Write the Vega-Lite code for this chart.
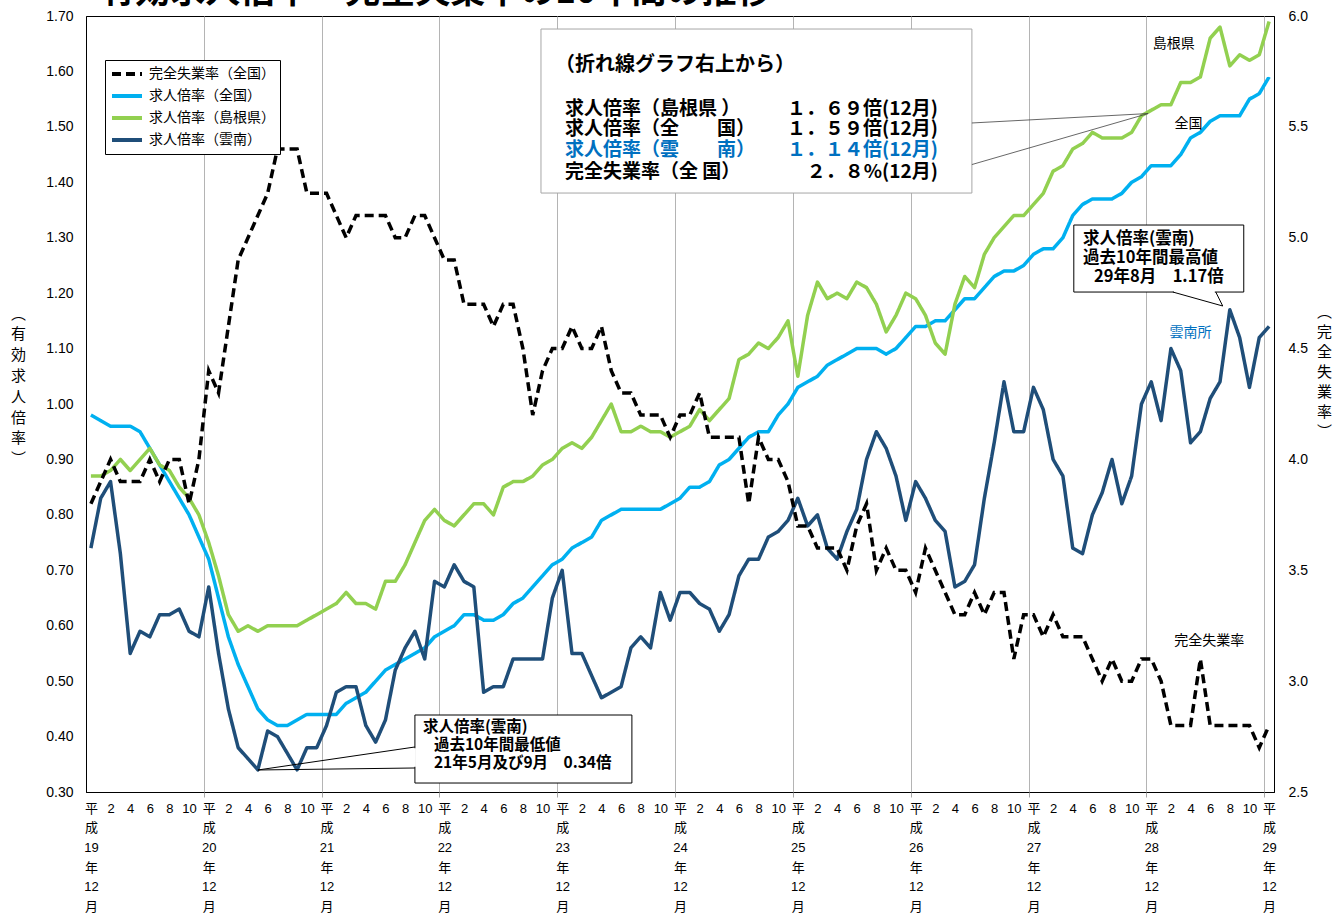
{
  "$schema": "https://vega.github.io/schema/vega-lite/v6.json",
  "width": 1188,
  "height": 776,
  "autosize": "none",
  "padding": {"left": 86, "top": 16, "right": 60, "bottom": 121},
  "background": "white",
  "config": {
    "view": {"stroke": "#000000", "strokeWidth": 1},
    "font": "Liberation Sans, Noto Sans CJK JP",
    "axis": {"labelColor": "#000000", "domainColor": "#000000", "titleColor": "#000000"}
  },
  "datasets": {
    "d": [
      {"m":0,"求人倍率（全国）":0.98,"求人倍率（島根県）":0.87,"求人倍率（雲南）":0.74,"完全失業率（全国）":3.8},
      {"m":1,"求人倍率（全国）":0.97,"求人倍率（島根県）":0.87,"求人倍率（雲南）":0.83,"完全失業率（全国）":3.9},
      {"m":2,"求人倍率（全国）":0.96,"求人倍率（島根県）":0.88,"求人倍率（雲南）":0.86,"完全失業率（全国）":4.0},
      {"m":3,"求人倍率（全国）":0.96,"求人倍率（島根県）":0.90,"求人倍率（雲南）":0.73,"完全失業率（全国）":3.9},
      {"m":4,"求人倍率（全国）":0.96,"求人倍率（島根県）":0.88,"求人倍率（雲南）":0.55,"完全失業率（全国）":3.9},
      {"m":5,"求人倍率（全国）":0.95,"求人倍率（島根県）":0.90,"求人倍率（雲南）":0.59,"完全失業率（全国）":3.9},
      {"m":6,"求人倍率（全国）":0.92,"求人倍率（島根県）":0.92,"求人倍率（雲南）":0.58,"完全失業率（全国）":4.0},
      {"m":7,"求人倍率（全国）":0.89,"求人倍率（島根県）":0.89,"求人倍率（雲南）":0.62,"完全失業率（全国）":3.9},
      {"m":8,"求人倍率（全国）":0.86,"求人倍率（島根県）":0.88,"求人倍率（雲南）":0.62,"完全失業率（全国）":4.0},
      {"m":9,"求人倍率（全国）":0.83,"求人倍率（島根県）":0.85,"求人倍率（雲南）":0.63,"完全失業率（全国）":4.0},
      {"m":10,"求人倍率（全国）":0.80,"求人倍率（島根県）":0.83,"求人倍率（雲南）":0.59,"完全失業率（全国）":3.8},
      {"m":11,"求人倍率（全国）":0.76,"求人倍率（島根県）":0.80,"求人倍率（雲南）":0.58,"完全失業率（全国）":4.0},
      {"m":12,"求人倍率（全国）":0.72,"求人倍率（島根県）":0.75,"求人倍率（雲南）":0.67,"完全失業率（全国）":4.4},
      {"m":13,"求人倍率（全国）":0.65,"求人倍率（島根県）":0.69,"求人倍率（雲南）":0.55,"完全失業率（全国）":4.3},
      {"m":14,"求人倍率（全国）":0.58,"求人倍率（島根県）":0.62,"求人倍率（雲南）":0.45,"完全失業率（全国）":4.6},
      {"m":15,"求人倍率（全国）":0.53,"求人倍率（島根県）":0.59,"求人倍率（雲南）":0.38,"完全失業率（全国）":4.9},
      {"m":16,"求人倍率（全国）":0.49,"求人倍率（島根県）":0.60,"求人倍率（雲南）":0.36,"完全失業率（全国）":5.0},
      {"m":17,"求人倍率（全国）":0.45,"求人倍率（島根県）":0.59,"求人倍率（雲南）":0.34,"完全失業率（全国）":5.1},
      {"m":18,"求人倍率（全国）":0.43,"求人倍率（島根県）":0.60,"求人倍率（雲南）":0.41,"完全失業率（全国）":5.2},
      {"m":19,"求人倍率（全国）":0.42,"求人倍率（島根県）":0.60,"求人倍率（雲南）":0.40,"完全失業率（全国）":5.4},
      {"m":20,"求人倍率（全国）":0.42,"求人倍率（島根県）":0.60,"求人倍率（雲南）":0.37,"完全失業率（全国）":5.4},
      {"m":21,"求人倍率（全国）":0.43,"求人倍率（島根県）":0.60,"求人倍率（雲南）":0.34,"完全失業率（全国）":5.4},
      {"m":22,"求人倍率（全国）":0.44,"求人倍率（島根県）":0.61,"求人倍率（雲南）":0.38,"完全失業率（全国）":5.2},
      {"m":23,"求人倍率（全国）":0.44,"求人倍率（島根県）":0.62,"求人倍率（雲南）":0.38,"完全失業率（全国）":5.2},
      {"m":24,"求人倍率（全国）":0.44,"求人倍率（島根県）":0.63,"求人倍率（雲南）":0.42,"完全失業率（全国）":5.2},
      {"m":25,"求人倍率（全国）":0.44,"求人倍率（島根県）":0.64,"求人倍率（雲南）":0.48,"完全失業率（全国）":5.1},
      {"m":26,"求人倍率（全国）":0.46,"求人倍率（島根県）":0.66,"求人倍率（雲南）":0.49,"完全失業率（全国）":5.0},
      {"m":27,"求人倍率（全国）":0.47,"求人倍率（島根県）":0.64,"求人倍率（雲南）":0.49,"完全失業率（全国）":5.1},
      {"m":28,"求人倍率（全国）":0.48,"求人倍率（島根県）":0.64,"求人倍率（雲南）":0.42,"完全失業率（全国）":5.1},
      {"m":29,"求人倍率（全国）":0.50,"求人倍率（島根県）":0.63,"求人倍率（雲南）":0.39,"完全失業率（全国）":5.1},
      {"m":30,"求人倍率（全国）":0.52,"求人倍率（島根県）":0.68,"求人倍率（雲南）":0.43,"完全失業率（全国）":5.1},
      {"m":31,"求人倍率（全国）":0.53,"求人倍率（島根県）":0.68,"求人倍率（雲南）":0.52,"完全失業率（全国）":5.0},
      {"m":32,"求人倍率（全国）":0.54,"求人倍率（島根県）":0.71,"求人倍率（雲南）":0.56,"完全失業率（全国）":5.0},
      {"m":33,"求人倍率（全国）":0.55,"求人倍率（島根県）":0.75,"求人倍率（雲南）":0.59,"完全失業率（全国）":5.1},
      {"m":34,"求人倍率（全国）":0.56,"求人倍率（島根県）":0.79,"求人倍率（雲南）":0.54,"完全失業率（全国）":5.1},
      {"m":35,"求人倍率（全国）":0.58,"求人倍率（島根県）":0.81,"求人倍率（雲南）":0.68,"完全失業率（全国）":5.0},
      {"m":36,"求人倍率（全国）":0.59,"求人倍率（島根県）":0.79,"求人倍率（雲南）":0.67,"完全失業率（全国）":4.9},
      {"m":37,"求人倍率（全国）":0.60,"求人倍率（島根県）":0.78,"求人倍率（雲南）":0.71,"完全失業率（全国）":4.9},
      {"m":38,"求人倍率（全国）":0.62,"求人倍率（島根県）":0.80,"求人倍率（雲南）":0.68,"完全失業率（全国）":4.7},
      {"m":39,"求人倍率（全国）":0.62,"求人倍率（島根県）":0.82,"求人倍率（雲南）":0.67,"完全失業率（全国）":4.7},
      {"m":40,"求人倍率（全国）":0.61,"求人倍率（島根県）":0.82,"求人倍率（雲南）":0.48,"完全失業率（全国）":4.7},
      {"m":41,"求人倍率（全国）":0.61,"求人倍率（島根県）":0.80,"求人倍率（雲南）":0.49,"完全失業率（全国）":4.6},
      {"m":42,"求人倍率（全国）":0.62,"求人倍率（島根県）":0.85,"求人倍率（雲南）":0.49,"完全失業率（全国）":4.7},
      {"m":43,"求人倍率（全国）":0.64,"求人倍率（島根県）":0.86,"求人倍率（雲南）":0.54,"完全失業率（全国）":4.7},
      {"m":44,"求人倍率（全国）":0.65,"求人倍率（島根県）":0.86,"求人倍率（雲南）":0.54,"完全失業率（全国）":4.5},
      {"m":45,"求人倍率（全国）":0.67,"求人倍率（島根県）":0.87,"求人倍率（雲南）":0.54,"完全失業率（全国）":4.2},
      {"m":46,"求人倍率（全国）":0.69,"求人倍率（島根県）":0.89,"求人倍率（雲南）":0.54,"完全失業率（全国）":4.4},
      {"m":47,"求人倍率（全国）":0.71,"求人倍率（島根県）":0.90,"求人倍率（雲南）":0.65,"完全失業率（全国）":4.5},
      {"m":48,"求人倍率（全国）":0.72,"求人倍率（島根県）":0.92,"求人倍率（雲南）":0.70,"完全失業率（全国）":4.5},
      {"m":49,"求人倍率（全国）":0.74,"求人倍率（島根県）":0.93,"求人倍率（雲南）":0.55,"完全失業率（全国）":4.6},
      {"m":50,"求人倍率（全国）":0.75,"求人倍率（島根県）":0.92,"求人倍率（雲南）":0.55,"完全失業率（全国）":4.5},
      {"m":51,"求人倍率（全国）":0.76,"求人倍率（島根県）":0.94,"求人倍率（雲南）":0.51,"完全失業率（全国）":4.5},
      {"m":52,"求人倍率（全国）":0.79,"求人倍率（島根県）":0.97,"求人倍率（雲南）":0.47,"完全失業率（全国）":4.6},
      {"m":53,"求人倍率（全国）":0.80,"求人倍率（島根県）":1.00,"求人倍率（雲南）":0.48,"完全失業率（全国）":4.4},
      {"m":54,"求人倍率（全国）":0.81,"求人倍率（島根県）":0.95,"求人倍率（雲南）":0.49,"完全失業率（全国）":4.3},
      {"m":55,"求人倍率（全国）":0.81,"求人倍率（島根県）":0.95,"求人倍率（雲南）":0.56,"完全失業率（全国）":4.3},
      {"m":56,"求人倍率（全国）":0.81,"求人倍率（島根県）":0.96,"求人倍率（雲南）":0.58,"完全失業率（全国）":4.2},
      {"m":57,"求人倍率（全国）":0.81,"求人倍率（島根県）":0.95,"求人倍率（雲南）":0.56,"完全失業率（全国）":4.2},
      {"m":58,"求人倍率（全国）":0.81,"求人倍率（島根県）":0.95,"求人倍率（雲南）":0.66,"完全失業率（全国）":4.2},
      {"m":59,"求人倍率（全国）":0.82,"求人倍率（島根県）":0.94,"求人倍率（雲南）":0.61,"完全失業率（全国）":4.1},
      {"m":60,"求人倍率（全国）":0.83,"求人倍率（島根県）":0.95,"求人倍率（雲南）":0.66,"完全失業率（全国）":4.2},
      {"m":61,"求人倍率（全国）":0.85,"求人倍率（島根県）":0.96,"求人倍率（雲南）":0.66,"完全失業率（全国）":4.2},
      {"m":62,"求人倍率（全国）":0.85,"求人倍率（島根県）":0.99,"求人倍率（雲南）":0.64,"完全失業率（全国）":4.3},
      {"m":63,"求人倍率（全国）":0.86,"求人倍率（島根県）":0.97,"求人倍率（雲南）":0.63,"完全失業率（全国）":4.1},
      {"m":64,"求人倍率（全国）":0.89,"求人倍率（島根県）":0.99,"求人倍率（雲南）":0.59,"完全失業率（全国）":4.1},
      {"m":65,"求人倍率（全国）":0.90,"求人倍率（島根県）":1.01,"求人倍率（雲南）":0.62,"完全失業率（全国）":4.1},
      {"m":66,"求人倍率（全国）":0.92,"求人倍率（島根県）":1.08,"求人倍率（雲南）":0.69,"完全失業率（全国）":4.1},
      {"m":67,"求人倍率（全国）":0.94,"求人倍率（島根県）":1.09,"求人倍率（雲南）":0.72,"完全失業率（全国）":3.8},
      {"m":68,"求人倍率（全国）":0.95,"求人倍率（島根県）":1.11,"求人倍率（雲南）":0.72,"完全失業率（全国）":4.1},
      {"m":69,"求人倍率（全国）":0.95,"求人倍率（島根県）":1.10,"求人倍率（雲南）":0.76,"完全失業率（全国）":4.0},
      {"m":70,"求人倍率（全国）":0.98,"求人倍率（島根県）":1.12,"求人倍率（雲南）":0.77,"完全失業率（全国）":4.0},
      {"m":71,"求人倍率（全国）":1.00,"求人倍率（島根県）":1.15,"求人倍率（雲南）":0.79,"完全失業率（全国）":3.9},
      {"m":72,"求人倍率（全国）":1.03,"求人倍率（島根県）":1.05,"求人倍率（雲南）":0.83,"完全失業率（全国）":3.7},
      {"m":73,"求人倍率（全国）":1.04,"求人倍率（島根県）":1.16,"求人倍率（雲南）":0.78,"完全失業率（全国）":3.7},
      {"m":74,"求人倍率（全国）":1.05,"求人倍率（島根県）":1.22,"求人倍率（雲南）":0.80,"完全失業率（全国）":3.6},
      {"m":75,"求人倍率（全国）":1.07,"求人倍率（島根県）":1.19,"求人倍率（雲南）":0.74,"完全失業率（全国）":3.6},
      {"m":76,"求人倍率（全国）":1.08,"求人倍率（島根県）":1.20,"求人倍率（雲南）":0.72,"完全失業率（全国）":3.6},
      {"m":77,"求人倍率（全国）":1.09,"求人倍率（島根県）":1.19,"求人倍率（雲南）":0.77,"完全失業率（全国）":3.5},
      {"m":78,"求人倍率（全国）":1.10,"求人倍率（島根県）":1.22,"求人倍率（雲南）":0.81,"完全失業率（全国）":3.7},
      {"m":79,"求人倍率（全国）":1.10,"求人倍率（島根県）":1.21,"求人倍率（雲南）":0.90,"完全失業率（全国）":3.8},
      {"m":80,"求人倍率（全国）":1.10,"求人倍率（島根県）":1.18,"求人倍率（雲南）":0.95,"完全失業率（全国）":3.5},
      {"m":81,"求人倍率（全国）":1.09,"求人倍率（島根県）":1.13,"求人倍率（雲南）":0.92,"完全失業率（全国）":3.6},
      {"m":82,"求人倍率（全国）":1.10,"求人倍率（島根県）":1.16,"求人倍率（雲南）":0.87,"完全失業率（全国）":3.5},
      {"m":83,"求人倍率（全国）":1.12,"求人倍率（島根県）":1.20,"求人倍率（雲南）":0.79,"完全失業率（全国）":3.5},
      {"m":84,"求人倍率（全国）":1.14,"求人倍率（島根県）":1.19,"求人倍率（雲南）":0.86,"完全失業率（全国）":3.4},
      {"m":85,"求人倍率（全国）":1.14,"求人倍率（島根県）":1.16,"求人倍率（雲南）":0.83,"完全失業率（全国）":3.6},
      {"m":86,"求人倍率（全国）":1.15,"求人倍率（島根県）":1.11,"求人倍率（雲南）":0.79,"完全失業率（全国）":3.5},
      {"m":87,"求人倍率（全国）":1.15,"求人倍率（島根県）":1.09,"求人倍率（雲南）":0.77,"完全失業率（全国）":3.4},
      {"m":88,"求人倍率（全国）":1.17,"求人倍率（島根県）":1.18,"求人倍率（雲南）":0.67,"完全失業率（全国）":3.3},
      {"m":89,"求人倍率（全国）":1.19,"求人倍率（島根県）":1.23,"求人倍率（雲南）":0.68,"完全失業率（全国）":3.3},
      {"m":90,"求人倍率（全国）":1.19,"求人倍率（島根県）":1.21,"求人倍率（雲南）":0.71,"完全失業率（全国）":3.4},
      {"m":91,"求人倍率（全国）":1.21,"求人倍率（島根県）":1.27,"求人倍率（雲南）":0.83,"完全失業率（全国）":3.3},
      {"m":92,"求人倍率（全国）":1.23,"求人倍率（島根県）":1.30,"求人倍率（雲南）":0.93,"完全失業率（全国）":3.4},
      {"m":93,"求人倍率（全国）":1.24,"求人倍率（島根県）":1.32,"求人倍率（雲南）":1.04,"完全失業率（全国）":3.4},
      {"m":94,"求人倍率（全国）":1.24,"求人倍率（島根県）":1.34,"求人倍率（雲南）":0.95,"完全失業率（全国）":3.1},
      {"m":95,"求人倍率（全国）":1.25,"求人倍率（島根県）":1.34,"求人倍率（雲南）":0.95,"完全失業率（全国）":3.3},
      {"m":96,"求人倍率（全国）":1.27,"求人倍率（島根県）":1.36,"求人倍率（雲南）":1.03,"完全失業率（全国）":3.3},
      {"m":97,"求人倍率（全国）":1.28,"求人倍率（島根県）":1.38,"求人倍率（雲南）":0.99,"完全失業率（全国）":3.2},
      {"m":98,"求人倍率（全国）":1.28,"求人倍率（島根県）":1.42,"求人倍率（雲南）":0.90,"完全失業率（全国）":3.3},
      {"m":99,"求人倍率（全国）":1.30,"求人倍率（島根県）":1.43,"求人倍率（雲南）":0.87,"完全失業率（全国）":3.2},
      {"m":100,"求人倍率（全国）":1.34,"求人倍率（島根県）":1.46,"求人倍率（雲南）":0.74,"完全失業率（全国）":3.2},
      {"m":101,"求人倍率（全国）":1.36,"求人倍率（島根県）":1.47,"求人倍率（雲南）":0.73,"完全失業率（全国）":3.2},
      {"m":102,"求人倍率（全国）":1.37,"求人倍率（島根県）":1.49,"求人倍率（雲南）":0.80,"完全失業率（全国）":3.1},
      {"m":103,"求人倍率（全国）":1.37,"求人倍率（島根県）":1.48,"求人倍率（雲南）":0.84,"完全失業率（全国）":3.0},
      {"m":104,"求人倍率（全国）":1.37,"求人倍率（島根県）":1.48,"求人倍率（雲南）":0.90,"完全失業率（全国）":3.1},
      {"m":105,"求人倍率（全国）":1.38,"求人倍率（島根県）":1.48,"求人倍率（雲南）":0.82,"完全失業率（全国）":3.0},
      {"m":106,"求人倍率（全国）":1.40,"求人倍率（島根県）":1.49,"求人倍率（雲南）":0.87,"完全失業率（全国）":3.0},
      {"m":107,"求人倍率（全国）":1.41,"求人倍率（島根県）":1.52,"求人倍率（雲南）":1.00,"完全失業率（全国）":3.1},
      {"m":108,"求人倍率（全国）":1.43,"求人倍率（島根県）":1.53,"求人倍率（雲南）":1.04,"完全失業率（全国）":3.1},
      {"m":109,"求人倍率（全国）":1.43,"求人倍率（島根県）":1.54,"求人倍率（雲南）":0.97,"完全失業率（全国）":3.0},
      {"m":110,"求人倍率（全国）":1.43,"求人倍率（島根県）":1.54,"求人倍率（雲南）":1.10,"完全失業率（全国）":2.8},
      {"m":111,"求人倍率（全国）":1.45,"求人倍率（島根県）":1.58,"求人倍率（雲南）":1.06,"完全失業率（全国）":2.8},
      {"m":112,"求人倍率（全国）":1.48,"求人倍率（島根県）":1.58,"求人倍率（雲南）":0.93,"完全失業率（全国）":2.8},
      {"m":113,"求人倍率（全国）":1.49,"求人倍率（島根県）":1.59,"求人倍率（雲南）":0.95,"完全失業率（全国）":3.1},
      {"m":114,"求人倍率（全国）":1.51,"求人倍率（島根県）":1.66,"求人倍率（雲南）":1.01,"完全失業率（全国）":2.8},
      {"m":115,"求人倍率（全国）":1.52,"求人倍率（島根県）":1.68,"求人倍率（雲南）":1.04,"完全失業率（全国）":2.8},
      {"m":116,"求人倍率（全国）":1.52,"求人倍率（島根県）":1.61,"求人倍率（雲南）":1.17,"完全失業率（全国）":2.8},
      {"m":117,"求人倍率（全国）":1.52,"求人倍率（島根県）":1.63,"求人倍率（雲南）":1.12,"完全失業率（全国）":2.8},
      {"m":118,"求人倍率（全国）":1.55,"求人倍率（島根県）":1.62,"求人倍率（雲南）":1.03,"完全失業率（全国）":2.8},
      {"m":119,"求人倍率（全国）":1.56,"求人倍率（島根県）":1.63,"求人倍率（雲南）":1.12,"完全失業率（全国）":2.7},
      {"m":120,"求人倍率（全国）":1.59,"求人倍率（島根県）":1.69,"求人倍率（雲南）":1.14,"完全失業率（全国）":2.8}
    ]
  },
  "layer": [
    {
      "data": {"name": "d"},
      "transform": [{"fold": ["求人倍率（全国）", "求人倍率（島根県）", "求人倍率（雲南）"], "as": ["series", "v"]}],
      "mark": {"type": "line", "strokeWidth": 3.5, "strokeJoin": "round"},
      "encoding": {
        "x": {
          "field": "m", "type": "quantitative",
          "scale": {"domain": [-0.5, 120.5], "nice": false, "zero": false},
          "axis": {
            "orient": "bottom",
            "values": [0,2,4,6,8,10,12,14,16,18,20,22,24,26,28,30,32,34,36,38,40,42,44,46,48,50,52,54,56,58,60,62,64,66,68,70,72,74,76,78,80,82,84,86,88,90,92,94,96,98,100,102,104,106,108,110,112,114,116,118,120],
            "labelExpr": "datum.value % 12 == 0 ? ['平', '成', toString(19 + datum.value / 12), '年', '12', '月'] : toString(datum.value % 12)",
            "ticks": false, "tickSize": 0, "grid": false, "domain": true, "domainColor": "#000000",
            "labelFontSize": 13, "labelLineHeight": 19.7, "labelBaseline": "top", "labelPadding": 10,
            "labelAngle": 0, "labelAlign": "center", "labelOverlap": false, "labelFlush": false,
            "title": null
          }
        },
        "y": {
          "field": "v", "type": "quantitative",
          "scale": {"domain": [0.3, 1.7], "nice": false, "zero": false},
          "axis": {
            "orient": "left",
            "values": [0.3,0.4,0.5,0.6,0.7,0.8,0.9,1.0,1.1,1.2,1.3,1.4,1.5,1.6,1.7],
            "format": ".2f", "labelFontSize": 14, "labelPadding": 13,
            "ticks": false, "tickSize": 0, "grid": false, "domain": true, "domainColor": "#000000",
            "labelFlush": false, "labelOverlap": false,
            "title": ["︵", "有", "効", "求", "人", "倍", "率", "︶"],
            "titleAngle": 0, "titleX": -68, "titleY": 297, "titleFontSize": 15, "titleFontWeight": "normal",
            "titleLineHeight": 20.8, "titleBaseline": "middle", "titleAlign": "center", "titleFont": "Noto Sans CJK JP"
          }
        },
        "color": {
          "field": "series", "type": "nominal",
          "scale": {"domain": ["完全失業率（全国）", "求人倍率（全国）", "求人倍率（島根県）", "求人倍率（雲南）"], "range": ["#000000", "#00B0F0", "#92D050", "#1F4E79"]},
          "legend": {"orient": "none", "legendX": 19, "legendY": 44, "title": null, "symbolType": "stroke", "symbolSize": 900, "symbolStrokeWidth": 4, "clipHeight": 18, "rowPadding": 4, "padding": 5, "strokeColor": "#000000", "fillColor": "#ffffff", "labelFontSize": 14, "labelFont": "Noto Sans CJK JP", "labelOffset": 5, "labelColor": "#000000"}
        },
        "strokeDash": {
          "field": "series", "type": "nominal",
          "scale": {"domain": ["完全失業率（全国）", "求人倍率（全国）", "求人倍率（島根県）", "求人倍率（雲南）"], "range": [[9, 5], [1, 0], [1, 0], [1, 0]]},
          "legend": {"orient": "none", "legendX": 19, "legendY": 44, "title": null, "symbolType": "stroke", "symbolSize": 900, "symbolStrokeWidth": 4, "clipHeight": 18, "rowPadding": 4, "padding": 5, "strokeColor": "#000000", "fillColor": "#ffffff", "labelFontSize": 14, "labelFont": "Noto Sans CJK JP", "labelOffset": 5, "labelColor": "#000000"}
        }
      }
    },
    {
      "data": {"name": "d"},
      "transform": [{"fold": ["完全失業率（全国）"], "as": ["series", "u"]}],
      "mark": {"type": "line", "strokeWidth": 3.5, "strokeJoin": "miter"},
      "encoding": {
        "x": {
          "field": "m", "type": "quantitative",
          "scale": {"domain": [-0.5, 120.5], "nice": false, "zero": false},
          "axis": {
            "orient": "bottom",
            "values": [11.5, 23.5, 35.5, 47.5, 59.5, 71.5, 83.5, 95.5, 107.5, 119.5],
            "labels": false, "ticks": true, "tickSize": 5, "tickColor": "#a6a6a6",
            "grid": true, "gridColor": "#b4b4b4", "gridWidth": 1, "domain": false, "title": null
          }
        },
        "y": {
          "field": "u", "type": "quantitative",
          "scale": {"domain": [2.5, 6.0], "nice": false, "zero": false},
          "axis": {
            "orient": "right",
            "values": [2.5,3.0,3.5,4.0,4.5,5.0,5.5,6.0],
            "format": ".1f", "labelFontSize": 14, "labelPadding": 14,
            "ticks": false, "tickSize": 0, "grid": false, "domain": true, "domainColor": "#000000",
            "labelFlush": false, "labelOverlap": false,
            "title": ["︵", "完", "全", "失", "業", "率", "︶"],
            "titleAngle": 0, "titleX": 50, "titleY": 295, "titleFontSize": 15, "titleFontWeight": "normal",
            "titleLineHeight": 20, "titleBaseline": "middle", "titleAlign": "center", "titleFont": "Noto Sans CJK JP"
          }
        },
        "color": {
          "field": "series", "type": "nominal",
          "scale": {"domain": ["完全失業率（全国）", "求人倍率（全国）", "求人倍率（島根県）", "求人倍率（雲南）"], "range": ["#000000", "#00B0F0", "#92D050", "#1F4E79"]},
          "legend": {"orient": "none", "legendX": 19, "legendY": 44, "title": null, "symbolType": "stroke", "symbolSize": 900, "symbolStrokeWidth": 4, "clipHeight": 18, "rowPadding": 4, "padding": 5, "strokeColor": "#000000", "fillColor": "#ffffff", "labelFontSize": 14, "labelFont": "Noto Sans CJK JP", "labelOffset": 5, "labelColor": "#000000"}
        },
        "strokeDash": {
          "field": "series", "type": "nominal",
          "scale": {"domain": ["完全失業率（全国）", "求人倍率（全国）", "求人倍率（島根県）", "求人倍率（雲南）"], "range": [[9, 5], [1, 0], [1, 0], [1, 0]]},
          "legend": {"orient": "none", "legendX": 19, "legendY": 44, "title": null, "symbolType": "stroke", "symbolSize": 900, "symbolStrokeWidth": 4, "clipHeight": 18, "rowPadding": 4, "padding": 5, "strokeColor": "#000000", "fillColor": "#ffffff", "labelFontSize": 14, "labelFont": "Noto Sans CJK JP", "labelOffset": 5, "labelColor": "#000000"}
        }
      }
    },
    {
      "layer": [
        {
          "data": {"values": [{}]},
          "mark": {"type": "text", "text": "有効求人倍率・完全失業率の10年間の推移", "align": "left", "baseline": "alphabetic", "fontSize": 35, "fontWeight": "bold", "font": "Noto Sans CJK JP", "color": "#000000"},
          "encoding": {
            "x": {"datum": 0.94, "type": "quantitative", "scale": {"domain": [-0.5, 120.5], "nice": false, "zero": false}, "axis": null},
            "y": {"datum": 1.724, "type": "quantitative", "scale": {"domain": [0.3, 1.7], "nice": false, "zero": false}, "axis": null}
          }
        },
        {
          "data": {"values": [{}]},
          "mark": {"type": "rect", "fill": "#ffffff", "stroke": "#a6a6a6", "strokeWidth": 1},
          "encoding": {
            "x": {"datum": 45.84, "type": "quantitative", "axis": null}, "x2": {"datum": 89.73},
            "y": {"datum": 1.6765, "type": "quantitative", "axis": null}, "y2": {"datum": 1.3806}
          }
        },
        {
          "data": {"values": [{}]},
          "mark": {"type": "rule", "stroke": "#404040", "strokeWidth": 0.8},
          "encoding": {
            "x": {"datum": 89.73, "type": "quantitative", "axis": null}, "x2": {"datum": 107.68},
            "y": {"datum": 1.507, "type": "quantitative", "axis": null}, "y2": {"datum": 1.524}
          }
        },
        {
          "data": {"values": [{}]},
          "mark": {"type": "rule", "stroke": "#404040", "strokeWidth": 0.8},
          "encoding": {
            "x": {"datum": 89.73, "type": "quantitative", "axis": null}, "x2": {"datum": 107.68},
            "y": {"datum": 1.432, "type": "quantitative", "axis": null}, "y2": {"datum": 1.524}
          }
        },
        {
          "data": {"values": [{}]},
          "mark": {"type": "text", "text": "（折れ線グラフ右上から）", "align": "left", "baseline": "middle", "fontSize": 20, "fontWeight": "bold", "font": "Noto Sans CJK JP", "color": "#000000"},
          "encoding": {
            "x": {"datum": 47.26, "type": "quantitative", "axis": null},
            "y": {"datum": 1.612, "type": "quantitative", "axis": null}
          }
        },
        {
          "data": {"values": [{}]},
          "mark": {"type": "text", "text": "求人倍率（島根県 ）", "align": "left", "baseline": "middle", "fontSize": 19, "fontWeight": "bold", "font": "Noto Sans CJK JP", "color": "#000000"},
          "encoding": {
            "x": {"datum": 48.28, "type": "quantitative", "axis": null},
            "y": {"datum": 1.5329, "type": "quantitative", "axis": null}
          }
        },
        {
          "data": {"values": [{}]},
          "mark": {"type": "text", "text": "求人倍率（全　　国）", "align": "left", "baseline": "middle", "fontSize": 19, "fontWeight": "bold", "font": "Noto Sans CJK JP", "color": "#000000"},
          "encoding": {
            "x": {"datum": 48.28, "type": "quantitative", "axis": null},
            "y": {"datum": 1.4968, "type": "quantitative", "axis": null}
          }
        },
        {
          "data": {"values": [{}]},
          "mark": {"type": "text", "text": "求人倍率（雲　　南）", "align": "left", "baseline": "middle", "fontSize": 19, "fontWeight": "bold", "font": "Noto Sans CJK JP", "color": "#0070C0"},
          "encoding": {
            "x": {"datum": 48.28, "type": "quantitative", "axis": null},
            "y": {"datum": 1.4589, "type": "quantitative", "axis": null}
          }
        },
        {
          "data": {"values": [{}]},
          "mark": {"type": "text", "text": "完全失業率（全 国）", "align": "left", "baseline": "middle", "fontSize": 19, "fontWeight": "bold", "font": "Noto Sans CJK JP", "color": "#000000"},
          "encoding": {
            "x": {"datum": 48.28, "type": "quantitative", "axis": null},
            "y": {"datum": 1.4193, "type": "quantitative", "axis": null}
          }
        },
        {
          "data": {"values": [{}]},
          "mark": {"type": "text", "text": "１．６９倍(12月)", "align": "right", "baseline": "middle", "fontSize": 19, "fontWeight": "bold", "font": "Noto Sans CJK JP", "color": "#000000"},
          "encoding": {
            "x": {"datum": 86.26, "type": "quantitative", "axis": null},
            "y": {"datum": 1.5329, "type": "quantitative", "axis": null}
          }
        },
        {
          "data": {"values": [{}]},
          "mark": {"type": "text", "text": "１．５９倍(12月)", "align": "right", "baseline": "middle", "fontSize": 19, "fontWeight": "bold", "font": "Noto Sans CJK JP", "color": "#000000"},
          "encoding": {
            "x": {"datum": 86.26, "type": "quantitative", "axis": null},
            "y": {"datum": 1.4968, "type": "quantitative", "axis": null}
          }
        },
        {
          "data": {"values": [{}]},
          "mark": {"type": "text", "text": "１．１４倍(12月)", "align": "right", "baseline": "middle", "fontSize": 19, "fontWeight": "bold", "font": "Noto Sans CJK JP", "color": "#0070C0"},
          "encoding": {
            "x": {"datum": 86.26, "type": "quantitative", "axis": null},
            "y": {"datum": 1.4589, "type": "quantitative", "axis": null}
          }
        },
        {
          "data": {"values": [{}]},
          "mark": {"type": "text", "text": "２．８%(12月)", "align": "right", "baseline": "middle", "fontSize": 19, "fontWeight": "bold", "font": "Noto Sans CJK JP", "color": "#000000"},
          "encoding": {
            "x": {"datum": 86.26, "type": "quantitative", "axis": null},
            "y": {"datum": 1.4193, "type": "quantitative", "axis": null}
          }
        },
        {
          "data": {"values": [{}]},
          "mark": {"type": "rect", "fill": "#ffffff", "stroke": "#000000", "strokeWidth": 1},
          "encoding": {
            "x": {"datum": 100.11, "type": "quantitative", "axis": null}, "x2": {"datum": 117.42},
            "y": {"datum": 1.3229, "type": "quantitative", "axis": null}, "y2": {"datum": 1.202}
          }
        },
        {
          "data": {"values": [{}]},
          "mark": {"type": "rule", "stroke": "#ffffff", "strokeWidth": 2},
          "encoding": {
            "x": {"datum": 110.3, "type": "quantitative", "axis": null}, "x2": {"datum": 114.47},
            "y": {"datum": 1.202, "type": "quantitative", "axis": null}, "y2": {"datum": 1.202}
          }
        },
        {
          "data": {"values": [{}]},
          "mark": {"type": "rule", "stroke": "#000000", "strokeWidth": 1},
          "encoding": {
            "x": {"datum": 110.2, "type": "quantitative", "axis": null}, "x2": {"datum": 115.28},
            "y": {"datum": 1.202, "type": "quantitative", "axis": null}, "y2": {"datum": 1.1768}
          }
        },
        {
          "data": {"values": [{}]},
          "mark": {"type": "rule", "stroke": "#000000", "strokeWidth": 1},
          "encoding": {
            "x": {"datum": 114.57, "type": "quantitative", "axis": null}, "x2": {"datum": 115.28},
            "y": {"datum": 1.202, "type": "quantitative", "axis": null}, "y2": {"datum": 1.1768}
          }
        },
        {
          "data": {"values": [{}]},
          "mark": {"type": "text", "text": "求人倍率(雲南)", "align": "left", "baseline": "middle", "fontSize": 16.5, "fontWeight": "bold", "font": "Noto Sans CJK JP", "color": "#000000"},
          "encoding": {
            "x": {"datum": 101.04, "type": "quantitative", "axis": null},
            "y": {"datum": 1.2971, "type": "quantitative", "axis": null}
          }
        },
        {
          "data": {"values": [{}]},
          "mark": {"type": "text", "text": "過去10年間最高値", "align": "left", "baseline": "middle", "fontSize": 16.5, "fontWeight": "bold", "font": "Noto Sans CJK JP", "color": "#000000"},
          "encoding": {
            "x": {"datum": 101.04, "type": "quantitative", "axis": null},
            "y": {"datum": 1.2628, "type": "quantitative", "axis": null}
          }
        },
        {
          "data": {"values": [{}]},
          "mark": {"type": "text", "text": "29年8月　1.17倍", "align": "left", "baseline": "middle", "fontSize": 16.5, "fontWeight": "bold", "font": "Noto Sans CJK JP", "color": "#000000"},
          "encoding": {
            "x": {"datum": 102.16, "type": "quantitative", "axis": null},
            "y": {"datum": 1.2286, "type": "quantitative", "axis": null}
          }
        },
        {
          "data": {"values": [{}]},
          "mark": {"type": "rect", "fill": "#ffffff", "stroke": "#000000", "strokeWidth": 1},
          "encoding": {
            "x": {"datum": 33.0, "type": "quantitative", "axis": null}, "x2": {"datum": 55.1},
            "y": {"datum": 0.4389, "type": "quantitative", "axis": null}, "y2": {"datum": 0.3162}
          }
        },
        {
          "data": {"values": [{}]},
          "mark": {"type": "rule", "stroke": "#ffffff", "strokeWidth": 2},
          "encoding": {
            "x": {"datum": 33.0, "type": "quantitative", "axis": null}, "x2": {"datum": 33.0},
            "y": {"datum": 0.379, "type": "quantitative", "axis": null}, "y2": {"datum": 0.3455}
          }
        },
        {
          "data": {"values": [{}]},
          "mark": {"type": "rule", "stroke": "#000000", "strokeWidth": 1},
          "encoding": {
            "x": {"datum": 33.0, "type": "quantitative", "axis": null}, "x2": {"datum": 17.01},
            "y": {"datum": 0.3812, "type": "quantitative", "axis": null}, "y2": {"datum": 0.3397}
          }
        },
        {
          "data": {"values": [{}]},
          "mark": {"type": "rule", "stroke": "#000000", "strokeWidth": 1},
          "encoding": {
            "x": {"datum": 33.0, "type": "quantitative", "axis": null}, "x2": {"datum": 17.01},
            "y": {"datum": 0.3433, "type": "quantitative", "axis": null}, "y2": {"datum": 0.3397}
          }
        },
        {
          "data": {"values": [{}]},
          "mark": {"type": "text", "text": "求人倍率(雲南)", "align": "left", "baseline": "middle", "fontSize": 15.5, "fontWeight": "bold", "font": "Noto Sans CJK JP", "color": "#000000"},
          "encoding": {
            "x": {"datum": 33.82, "type": "quantitative", "axis": null},
            "y": {"datum": 0.4169, "type": "quantitative", "axis": null}
          }
        },
        {
          "data": {"values": [{}]},
          "mark": {"type": "text", "text": "過去10年間最低値", "align": "left", "baseline": "middle", "fontSize": 15.5, "fontWeight": "bold", "font": "Noto Sans CJK JP", "color": "#000000"},
          "encoding": {
            "x": {"datum": 34.94, "type": "quantitative", "axis": null},
            "y": {"datum": 0.3844, "type": "quantitative", "axis": null}
          }
        },
        {
          "data": {"values": [{}]},
          "mark": {"type": "text", "text": "21年5月及び9月　0.34倍", "align": "left", "baseline": "middle", "fontSize": 15.5, "fontWeight": "bold", "font": "Noto Sans CJK JP", "color": "#000000"},
          "encoding": {
            "x": {"datum": 34.94, "type": "quantitative", "axis": null},
            "y": {"datum": 0.352, "type": "quantitative", "axis": null}
          }
        },
        {
          "data": {"values": [{}]},
          "mark": {"type": "text", "text": "島根県", "align": "center", "baseline": "middle", "fontSize": 14, "font": "Noto Sans CJK JP", "color": "#000000"},
          "encoding": {
            "x": {"datum": 110.3, "type": "quantitative", "axis": null},
            "y": {"datum": 1.649, "type": "quantitative", "axis": null}
          }
        },
        {
          "data": {"values": [{}]},
          "mark": {"type": "text", "text": "全国", "align": "center", "baseline": "middle", "fontSize": 14, "font": "Noto Sans CJK JP", "color": "#000000"},
          "encoding": {
            "x": {"datum": 111.8, "type": "quantitative", "axis": null},
            "y": {"datum": 1.505, "type": "quantitative", "axis": null}
          }
        },
        {
          "data": {"values": [{}]},
          "mark": {"type": "text", "text": "雲南所", "align": "center", "baseline": "middle", "fontSize": 14, "font": "Noto Sans CJK JP", "color": "#0070C0"},
          "encoding": {
            "x": {"datum": 112.0, "type": "quantitative", "axis": null},
            "y": {"datum": 1.128, "type": "quantitative", "axis": null}
          }
        },
        {
          "data": {"values": [{}]},
          "mark": {"type": "text", "text": "完全失業率", "align": "center", "baseline": "middle", "fontSize": 14, "font": "Noto Sans CJK JP", "color": "#000000"},
          "encoding": {
            "x": {"datum": 113.9, "type": "quantitative", "axis": null},
            "y": {"datum": 0.572, "type": "quantitative", "axis": null}
          }
        }
      ]
    }
  ],
  "resolve": {"scale": {"y": "independent"}, "axis": {"x": "independent"}}
}
